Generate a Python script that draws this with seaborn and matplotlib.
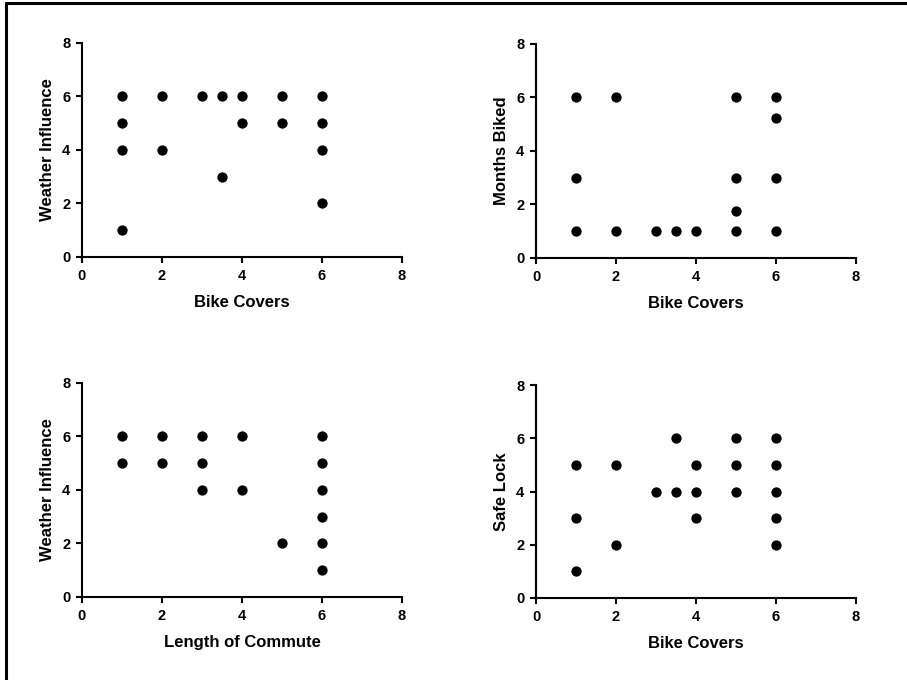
import pandas as pd
import matplotlib.pyplot as plt
import seaborn as sns
from matplotlib.lines import Line2D

# Panel 1: Bike Covers vs Weather Influence
covers_1 = [1, 1, 1, 1, 2, 2, 3, 3.5, 3.5, 4, 4, 5, 5, 6, 6, 6, 6]
weather_1 = [6, 5, 4, 1, 6, 4, 6, 6, 3, 6, 5, 6, 5, 6, 5, 4, 2]

# Panel 2: Bike Covers vs Months Biked
covers_2 = [1, 1, 1, 2, 2, 3, 3.5, 4, 5, 5, 5, 5, 6, 6, 6, 6]
months_2 = [6, 3, 1, 6, 1, 1, 1, 1, 6, 3, 1.75, 1, 6, 5.25, 3, 1]

# Panel 3: Length of Commute vs Weather Influence
commute_3 = [1, 1, 2, 2, 3, 3, 3, 4, 4, 5, 6, 6, 6, 6, 6, 6]
weather_3 = [6, 5, 6, 5, 6, 5, 4, 6, 4, 2, 6, 5, 4, 3, 2, 1]

# Panel 4: Bike Covers vs Safe Lock
covers_4 = [1, 1, 1, 2, 2, 3, 3.5, 3.5, 4, 4, 4, 5, 5, 5, 6, 6, 6, 6, 6]
lock_4 = [5, 3, 1, 5, 2, 4, 6, 4, 5, 4, 3, 6, 5, 4, 6, 5, 4, 3, 2]

panels = [
    (covers_1, weather_1, "Bike Covers", "Weather Influence", [0.0904, 0.6221, 0.3528, 0.3147]),
    (covers_2, months_2, "Bike Covers", "Months Biked", [0.5910, 0.6206, 0.3528, 0.3147]),
    (commute_3, weather_3, "Length of Commute", "Weather Influence", [0.0904, 0.1221, 0.3528, 0.3147]),
    (covers_4, lock_4, "Bike Covers", "Safe Lock", [0.5910, 0.1206, 0.3528, 0.3132]),
]

sns.set_style("ticks")
plt.rcParams["font.family"] = ["Liberation Sans", "DejaVu Sans"]
plt.rcParams["text.color"] = "black"
plt.rcParams["axes.labelcolor"] = "black"
plt.rcParams["xtick.color"] = "black"
plt.rcParams["ytick.color"] = "black"

fig = plt.figure(figsize=(9.07, 6.8), dpi=100)

for x, y, xlab, ylab, rect in panels:
    ax = fig.add_axes(rect)
    df = pd.DataFrame({"x": x, "y": y})
    sns.scatterplot(data=df, x="x", y="y", ax=ax, color="black",
                    s=55, edgecolor="black", linewidth=0, clip_on=False)
    ax.set_xlim(0, 8)
    ax.set_ylim(0, 8)
    ax.set_xticks([0, 2, 4, 6, 8])
    ax.set_yticks([0, 2, 4, 6, 8])
    ax.set_xlabel(xlab, fontsize=12, fontweight="bold", labelpad=9)
    ax.set_ylabel(ylab, fontsize=12, fontweight="bold", labelpad=5)
    for lbl in ax.get_xticklabels() + ax.get_yticklabels():
        lbl.set_fontweight("bold")
        lbl.set_fontsize(10.5)
        lbl.set_color("black")
    ax.tick_params(direction="out", length=4.5, width=1.5, color="black", pad=4)
    for side in ["top", "right"]:
        ax.spines[side].set_visible(False)
    for side in ["left", "bottom"]:
        ax.spines[side].set_linewidth(1.5)
        ax.spines[side].set_color("black")

# outer frame (top and left edges only)
fig.add_artist(Line2D([6 / 907, 1.0], [1 - 3 / 680, 1 - 3 / 680], color="black", linewidth=2.2))
fig.add_artist(Line2D([6 / 907, 6 / 907], [0.0, 1 - 3 / 680], color="black", linewidth=2.2))

fig.savefig("out.png", dpi=100)
